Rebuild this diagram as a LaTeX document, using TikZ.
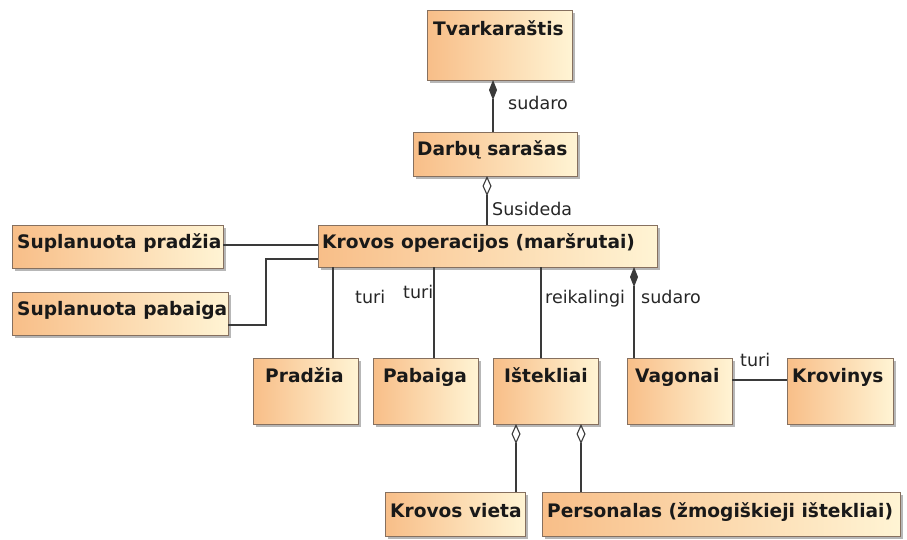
\documentclass[tikz,border=0pt]{standalone}
\usepackage{fontspec}
\setmainfont{DejaVu Sans}
\usetikzlibrary{calc,shadows,arrows.meta}
\definecolor{boxA}{HTML}{F8BE88}
\definecolor{boxB}{HTML}{FFF4D4}
\definecolor{boxline}{HTML}{86705F}
\definecolor{conn}{HTML}{3A3A3A}
\tikzset{
  umlbox/.style={draw=boxline, line width=0.9pt, left color=boxA, right color=boxB,
    inner sep=0pt, outer sep=0pt, anchor=north west,
    drop shadow={shadow xshift=3pt, shadow yshift=-3pt, fill=black!40, opacity=0.7}},
  btxt/.style={anchor=base west, inner sep=0pt, font=\fontsize{18.6}{22}\selectfont\bfseries, text=black!90},
  ltxt/.style={anchor=base west, inner sep=0pt, font=\fontsize{17.5}{20}\selectfont, text=black!85},
  conline/.style={draw=conn, line width=1.1pt},
  comp/.style={conline, {Diamond[length=20pt,width=8pt,fill=conn]}-},
  aggr/.style={conline, {Diamond[open,length=20pt,width=9pt,fill=white]}-},
}
\begin{document}
\begin{tikzpicture}[x=1pt,y=-1pt]
\useasboundingbox (0,0) rectangle (907,539);
% boxes
\node[umlbox, minimum width=145pt, minimum height=70pt] (tv) at (427,10) {};
\node[umlbox, minimum width=164pt, minimum height=44pt] (darb) at (413,132) {};
\node[umlbox, minimum width=339pt, minimum height=42pt] (krov) at (318,225) {};
\node[umlbox, minimum width=211pt, minimum height=43pt] (sp) at (12,225) {};
\node[umlbox, minimum width=216pt, minimum height=43pt] (spb) at (12,292) {};
\node[umlbox, minimum width=105pt, minimum height=66pt] (pr) at (253,358) {};
\node[umlbox, minimum width=105pt, minimum height=66pt] (pb) at (373,358) {};
\node[umlbox, minimum width=105pt, minimum height=66pt] (ist) at (493,358) {};
\node[umlbox, minimum width=105pt, minimum height=66pt] (vag) at (627,358) {};
\node[umlbox, minimum width=106pt, minimum height=66pt] (krv) at (787,358) {};
\node[umlbox, minimum width=140pt, minimum height=44pt] (kv) at (385,492) {};
\node[umlbox, minimum width=358pt, minimum height=44pt] (pers) at (542,492) {};
% box texts
\node[btxt] (tvT) at ($(tv.north west)+(6,25)$) {Tvarkaraštis};
\node[btxt] (darbT) at ($(darb.north west)+(4,23)$) {Darbų sarašas};
\node[btxt] (krovT) at ($(krov.north west)+(4,23)$) {Krovos operacijos (maršrutai)};
\node[btxt] (spT) at ($(sp.north west)+(5,23)$) {Suplanuota pradžia};
\node[btxt] (spbT) at ($(spb.north west)+(5,23)$) {Suplanuota pabaiga};
\node[btxt] (prT) at ($(pr.north west)+(12,24)$) {Pradžia};
\node[btxt] (pbT) at ($(pb.north west)+(10,24)$) {Pabaiga};
\node[btxt] (istT) at ($(ist.north west)+(11,24)$) {Ištekliai};
\node[btxt] (vagT) at ($(vag.north west)+(8,24)$) {Vagonai};
\node[btxt] (krvT) at ($(krv.north west)+(5,24)$) {Krovinys};
\node[btxt] (kvT) at ($(kv.north west)+(5,25)$) {Krovos vieta};
\node[btxt] (persT) at ($(pers.north west)+(5,25)$) {Personalas (žmogiškieji ištekliai)};
% helper coordinates
\coordinate (xa) at (493,0);
\coordinate (xb) at (487,0);
\coordinate (xc) at (266,0);
\coordinate (x1) at (333,0);
\coordinate (x2) at (434,0);
\coordinate (x3) at (541,0);
\coordinate (x4) at (634,0);
\coordinate (x5) at (516,0);
\coordinate (x6) at (581,0);
\coordinate (ya) at (0,245);
\coordinate (yb) at (0,259);
\coordinate (yc) at (0,325);
\coordinate (yd) at (0,380);
% connectors
\draw[comp] (tv.south -| xa) -- (darb.north -| xa);
\draw[aggr] (darb.south -| xb) -- (krov.north -| xb);
\draw[conline] (sp.east |- ya) -- (krov.west |- ya);
\draw[conline] (spb.east |- yc) -| (xc |- yb) -- (krov.west |- yb);
\draw[conline] (krov.south -| x1) -- (pr.north -| x1);
\draw[conline] (krov.south -| x2) -- (pb.north -| x2);
\draw[conline] (krov.south -| x3) -- (ist.north -| x3);
\draw[comp] (krov.south -| x4) -- (vag.north -| x4);
\draw[conline] (vag.east |- yd) -- (krv.west |- yd);
\draw[aggr] (ist.south -| x5) -- (kv.north -| x5);
\draw[aggr] (ist.south -| x6) -- (pers.north -| x6);
% labels
\node[ltxt] (l1) at (508,109) {sudaro};
\node[ltxt] (l2) at (492,215) {Susideda};
\node[ltxt] (l3) at (355,303) {turi};
\node[ltxt] (l4) at (403,298) {turi};
\node[ltxt] (l5) at (545,303) {reikalingi};
\node[ltxt] (l6) at (641,303) {sudaro};
\node[ltxt] (l7) at (740,366) {turi};
\end{tikzpicture}
\end{document}
